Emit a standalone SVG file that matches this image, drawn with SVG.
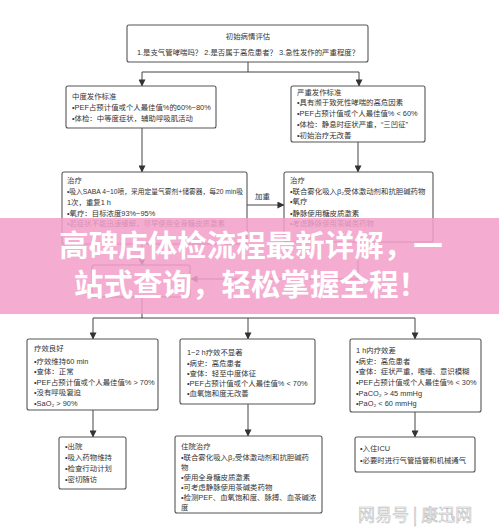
<svg xmlns="http://www.w3.org/2000/svg" width="499" height="532" viewBox="0 0 499 532">
<style>
.box{fill:#fff;stroke:#555;stroke-width:1.1}
.t{font-family:"Liberation Sans","Noto Sans CJK SC",sans-serif;font-size:7.4px;fill:#333}
.c{text-anchor:middle}
.ln{stroke:#444;stroke-width:1;fill:none}
.ban{font-family:"Noto Sans CJK SC",sans-serif;font-size:29.5px;font-weight:bold;fill:#fff;text-anchor:middle}
.wm{font-family:"Noto Sans CJK SC",sans-serif;font-size:17px;fill:#f8f8f8;stroke:#b5b5b5;stroke-width:0.5}
</style>
<defs>
<marker id="ah" viewBox="0 0 8 8" refX="7.5" refY="4" markerWidth="7" markerHeight="7" orient="auto" markerUnits="userSpaceOnUse">
<path d="M0,0 L8,4 L0,8 z" fill="#333"/>
</marker>
</defs>
<rect x="0" y="0" width="499" height="532" fill="#fff"/>
<g id="connectors">
<path class="ln" d="M248,62 V72 M142,72 H359"/>
<path class="ln" d="M142,72 V86" marker-end="url(#ah)"/>
<path class="ln" d="M359,72 V86" marker-end="url(#ah)"/>
<path class="ln" d="M142,128 V172" marker-end="url(#ah)"/>
<path class="ln" d="M358,142 V172" marker-end="url(#ah)"/>
<path class="ln" d="M247,205 H284" marker-end="url(#ah)"/>
<path class="ln" d="M142,244 V265" marker-end="url(#ah)"/>
<path class="ln" d="M358,242 V279 H191" marker-end="url(#ah)"/>
<path class="ln" d="M142,297 V318 M93,318 H415"/>
<path class="ln" d="M93,318 V339" marker-end="url(#ah)"/>
<path class="ln" d="M248,318 V339" marker-end="url(#ah)"/>
<path class="ln" d="M415,318 V339" marker-end="url(#ah)"/>
<path class="ln" d="M93,410 V437" marker-end="url(#ah)"/>
<path class="ln" d="M248,404 V436" marker-end="url(#ah)"/>
<path class="ln" d="M415,412 V437" marker-end="url(#ah)"/>
<text class="t" x="255" y="199">加重</text>
</g>
<g id="n-init">
<rect class="box" x="127" y="25" width="241" height="37" rx="2"/>
<text class="t c" x="248" y="39">初始病情评估</text>
<text class="t c" x="248" y="55">1.是支气管哮喘吗？ 2.是否属于高危患者？ 3.急性发作的严重程度？</text>
</g>
<g id="n-moderate">
<rect class="box" x="66" y="86" width="150" height="42" rx="2"/>
<text class="t" x="72" y="99">中度发作标准</text>
<text class="t" x="72" y="110">•PEF占预计值或个人最佳值%的60%~80%</text>
<text class="t" x="72" y="121">•体检：中等度症状，辅助呼吸肌活动</text>
</g>
<g id="n-severe">
<rect class="box" x="291" y="86" width="134" height="56" rx="2"/>
<text class="t" x="297" y="95">严重发作标准</text>
<text class="t" x="297" y="105">•具有濒于致死性哮喘的高危因素</text>
<text class="t" x="297" y="116">•PEF占预计值或个人最佳值% &lt; 60%</text>
<text class="t" x="297" y="127">•体检：静息时症状严重，“三凹征”</text>
<text class="t" x="297" y="138">•初始治疗无改善</text>
</g>
<g id="n-treat1">
<rect class="box" x="62" y="172" width="185" height="72" rx="2"/>
<text class="t" x="67" y="183">治疗</text>
<text class="t" x="67" y="194" textLength="176" lengthAdjust="spacingAndGlyphs">•吸入SABA 4~10喷，采用定量气雾剂+储雾器，每20 min吸</text>
<text class="t" x="67" y="205">1次，重复1 h</text>
<text class="t" x="67" y="216">•氧疗：目标浓度93%~95%</text>
<text class="t" x="67" y="226">•若症状不能迅速缓解，尽早使用全身糖皮质激素</text>
</g>
<g id="n-treat2">
<rect class="box" x="284" y="172" width="149" height="70" rx="2"/>
<text class="t" x="290" y="183">治疗</text>
<text class="t" x="290" y="194">•联合雾化吸入β₂受体激动剂和抗胆碱药物</text>
<text class="t" x="290" y="204">•氧疗</text>
<text class="t" x="290" y="216">•静脉使用糖皮质激素</text>
<text class="t" x="290" y="226">•考虑静脉使用茶碱类药物</text>
</g>
<g id="n-reeval">
<rect class="box" x="92" y="265" width="98" height="32" rx="2"/>
</g>
<g id="n-good">
<rect class="box" x="27" y="339" width="131" height="71" rx="2"/>
<text class="t" x="34" y="351">疗效良好</text>
<text class="t" x="34" y="364">•疗效维持60 min</text>
<text class="t" x="34" y="374">•查体：正常</text>
<text class="t" x="34" y="385">•PEF占预计值或个人最佳值% &gt; 70%</text>
<text class="t" x="34" y="395">•没有呼吸窘迫</text>
<text class="t" x="34" y="406">•SaO₂ &gt; 90%</text>
</g>
<g id="n-mid">
<rect class="box" x="180" y="339" width="135" height="65" rx="2"/>
<text class="t" x="187" y="355">1~2 h疗效不显著</text>
<text class="t" x="187" y="366">•病史：高危患者</text>
<text class="t" x="187" y="376">•查体：轻至中度体征</text>
<text class="t" x="187" y="386">•PEF占预计值或个人最佳值% &lt; 70%</text>
<text class="t" x="187" y="396">•血氧饱和度无改善</text>
</g>
<g id="n-poor">
<rect class="box" x="350" y="339" width="131" height="73" rx="2"/>
<text class="t" x="356" y="353">1 h内疗效差</text>
<text class="t" x="356" y="364">•病史：高危患者</text>
<text class="t" x="356" y="374">•查体：症状严重，嗜睡、意识模糊</text>
<text class="t" x="356" y="385">•PEF占预计值或个人最佳值% &lt; 30%</text>
<text class="t" x="356" y="396">•PaCO₂ &gt; 45 mmHg</text>
<text class="t" x="356" y="406">•PaO₂ &lt; 60 mmHg</text>
</g>
<g id="n-discharge">
<rect class="box" x="59" y="437" width="67" height="52" rx="2"/>
<text class="t" x="65" y="449">•出院</text>
<text class="t" x="65" y="460">•吸入药物维持</text>
<text class="t" x="65" y="471">•检查行动计划</text>
<text class="t" x="65" y="482">•密切随访</text>
</g>
<g id="n-hosp">
<rect class="box" x="175" y="436" width="147" height="77" rx="2"/>
<text class="t" x="181" y="449">住院治疗</text>
<text class="t" x="181" y="460">•联合雾化吸入β₂受体激动剂和抗胆碱药</text>
<text class="t" x="181" y="470">物</text>
<text class="t" x="181" y="480">•使用全身糖皮质激素</text>
<text class="t" x="181" y="490">•可考虑静脉使用茶碱类药物</text>
<text class="t" x="181" y="500">•检测PEF、血氧饱和度、脉搏、血茶碱浓</text>
<text class="t" x="181" y="510">度</text>
</g>
<g id="n-icu">
<rect class="box" x="355" y="437" width="120" height="35" rx="2"/>
<text class="t" x="360" y="451">•入住ICU</text>
<text class="t" x="360" y="463">•必要时进行气管插管和机械通气</text>
</g>
<rect x="0" y="218" width="499" height="96" fill="#f2a0c8" opacity="0.86"/>
<text class="ban" x="251" y="256">高碑店体检流程最新详解，一</text>
<text class="ban" x="251" y="295">站式查询，轻松掌握全程！</text>
<text class="wm" x="358" y="521">网易号 | 康迅网</text>
</svg>
